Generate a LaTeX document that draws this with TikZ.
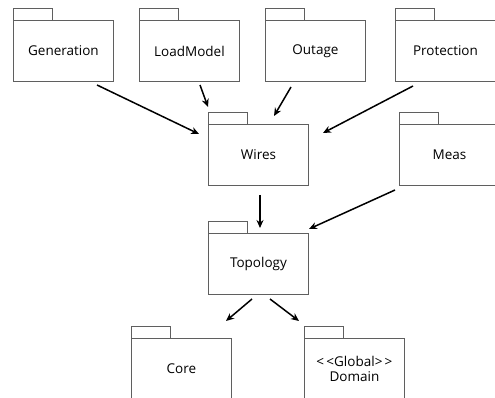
\documentclass[tikz,border=0pt]{standalone}
\usepackage{fontspec}
\setmainfont{Open Sans}
\usetikzlibrary{arrows.meta}
\definecolor{boxline}{RGB}{95,95,95}
\tikzset{
  pkgbody/.style={draw=boxline, line width=0.9pt, minimum width=100pt, minimum height=61pt, inner sep=0pt, align=center, font=\fontsize{13.5}{15}\selectfont, anchor=north west},
  dep/.style={line width=1.5pt, -{Stealth[length=8pt,width=7pt]}},
}
\begin{document}
\begin{tikzpicture}[x=1pt,y=-1pt]
\useasboundingbox (0,0) rectangle (495,398);
\clip (0,0) rectangle (495,398);
\node[pkgbody] (gen) at (13,20) {Generation};
\node[pkgbody] (load) at (139,20) {LoadModel};
\node[pkgbody] (out) at (265,20) {Outage};
\node[pkgbody] (prot) at (395,20) {Protection};
\node[pkgbody] (wires) at (208,124) {Wires};
\node[pkgbody] (meas) at (399,124) {Meas};
\node[pkgbody] (topo) at (208,233) {Topology};
\node[pkgbody] (core) at (131,338) {Core};
\node[pkgbody] (dom) at (304,338) {{<}\,{<}Global{>}\,{>}\\Domain};
\foreach \n in {gen,load,out,prot,wires,meas,topo,core,dom}
  \draw[boxline, line width=0.9pt] (\n.north west) rectangle ++(39,-12);
% arrow endpoints
\coordinate (a1s) at (97,85);  \coordinate (a1e) at (199,134);
\coordinate (a2s) at (200,85); \coordinate (a2e) at (208,107);
\coordinate (a3s) at (291,87); \coordinate (a3e) at (274,116);
\coordinate (a4s) at (413,86); \coordinate (a4e) at (323,133);
\coordinate (a5s) at (260,195); \coordinate (a5e) at (260,228);
\coordinate (a6s) at (395,190); \coordinate (a6e) at (309,229);
\coordinate (a7s) at (252,299); \coordinate (a7e) at (226,321);
\coordinate (a8s) at (270,299); \coordinate (a8e) at (299,321);
\draw[dep] (a1s) -- (a1e);
\draw[dep] (a2s) -- (a2e);
\draw[dep] (a3s) -- (a3e);
\draw[dep] (a4s) -- (a4e);
\draw[dep] (a5s) -- (a5e);
\draw[dep] (a6s) -- (a6e);
\draw[dep] (a7s) -- (a7e);
\draw[dep] (a8s) -- (a8e);
\end{tikzpicture}
\end{document}
